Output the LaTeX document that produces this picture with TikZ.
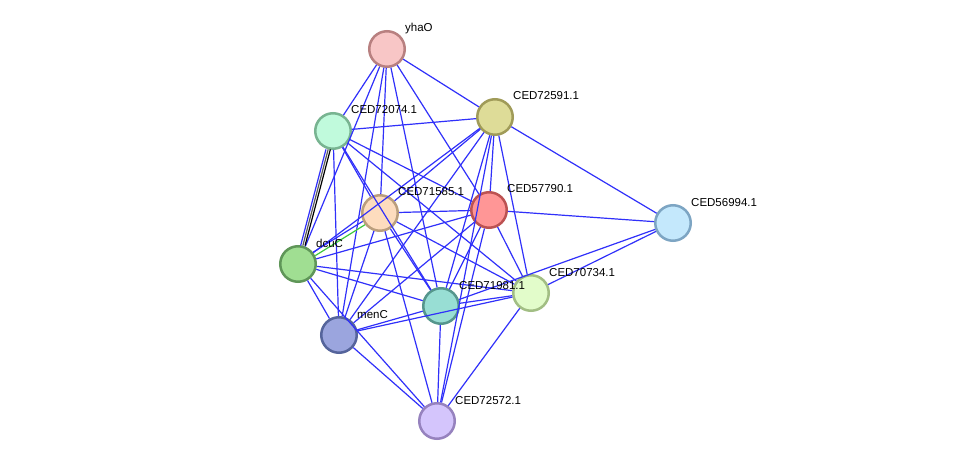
\documentclass[tikz,border=0pt]{standalone}
\usepackage{fontspec}
\setmainfont{Liberation Sans}

\definecolor{linkblue}{RGB}{48,48,250}
\definecolor{linkgreen}{RGB}{60,200,60}
\definecolor{linkgray}{RGB}{90,90,90}

\begin{document}
\begin{tikzpicture}[x=1pt,y=-1pt,prot/.style={circle,minimum size=35.5pt,inner sep=0pt,line width=2.5pt},lbl/.style={anchor=base west,inner sep=0pt,font=\fontsize{11.5}{13}\selectfont},edge/.style={line width=1.2pt,draw=linkblue}]
\useasboundingbox[fill=white] (0,0) rectangle (975,468);
\node[prot,draw={rgb,255:red,184;green,128;blue,128},fill={rgb,255:red,248;green,198;blue,198}] (yhaO) at (387,49) {};
\node[prot,draw={rgb,255:red,120;green,180;blue,145},fill={rgb,255:red,192;green,250;blue,220}] (c72074) at (333,131) {};
\node[prot,draw={rgb,255:red,160;green,155;blue,88},fill={rgb,255:red,222;green,220;blue,152}] (c72591) at (495,117) {};
\node[prot,draw={rgb,255:red,186;green,158;blue,125},fill={rgb,255:red,253;green,220;blue,190}] (c71585) at (380,213) {};
\node[prot,draw={rgb,255:red,188;green,82;blue,82},fill={rgb,255:red,255;green,150;blue,150}] (c57790) at (489,210) {};
\node[prot,draw={rgb,255:red,125;green,165;blue,195},fill={rgb,255:red,196;green,232;blue,252}] (c56994) at (673,223) {};
\node[prot,draw={rgb,255:red,95;green,150;blue,88},fill={rgb,255:red,160;green,222;blue,146}] (dcuC) at (298,264) {};
\node[prot,draw={rgb,255:red,162;green,190;blue,132},fill={rgb,255:red,226;green,252;blue,202}] (c70734) at (531,293) {};
\node[prot,draw={rgb,255:red,85;green,150;blue,140},fill={rgb,255:red,152;green,222;blue,212}] (c71981) at (441,306) {};
\node[prot,draw={rgb,255:red,85;green,100;blue,155},fill={rgb,255:red,155;green,165;blue,222}] (menC) at (339,335) {};
\node[prot,draw={rgb,255:red,150;green,130;blue,190},fill={rgb,255:red,212;green,197;blue,252}] (c72572) at (437,421) {};
% links
\draw[edge] (yhaO) -- (c72074);
\draw[edge] (yhaO) -- (c72591);
\draw[edge] (yhaO) -- (dcuC);
\draw[edge] (yhaO) -- (menC);
\draw[edge] (yhaO) -- (c71585);
\draw[edge] (yhaO) -- (c71981);
\draw[edge] (yhaO) -- (c57790);
\draw[edge] (c72074) -- (c72591);
\draw[edge,transform canvas={xshift=-2.2pt}] (c72074) -- (dcuC);
\draw[line width=1.2pt,draw=linkgray] (c72074) -- (dcuC);
\draw[line width=1.2pt,draw=black,transform canvas={xshift=2.2pt}] (c72074) -- (dcuC);
\draw[edge] (c72074) -- (menC);
\draw[edge] (c72074) -- (c71585);
\draw[edge] (c72074) -- (c57790);
\draw[edge] (c72074) -- (c71981);
\draw[edge] (c72074) -- (c70734);
\draw[edge] (c72591) -- (c71585);
\draw[edge] (c72591) -- (dcuC);
\draw[edge] (c72591) -- (menC);
\draw[edge] (c72591) -- (c57790);
\draw[edge] (c72591) -- (c71981);
\draw[edge] (c72591) -- (c72572);
\draw[edge] (c72591) -- (c70734);
\draw[edge] (c72591) -- (c56994);
\draw[edge,transform canvas={xshift=-1.1pt,yshift=1.7pt}] (c71585) -- (dcuC);
\draw[line width=1.2pt,draw=linkgreen,transform canvas={xshift=1.1pt,yshift=-1.7pt}] (c71585) -- (dcuC);
\draw[edge] (c71585) -- (c57790);
\draw[edge] (c71585) -- (c71981);
\draw[edge] (c71585) -- (c70734);
\draw[edge] (c71585) -- (c72572);
\draw[edge] (c71585) -- (menC);
\draw[edge] (c57790) -- (c56994);
\draw[edge] (c57790) -- (dcuC);
\draw[edge] (c57790) -- (menC);
\draw[edge] (c57790) -- (c71981);
\draw[edge] (c57790) -- (c70734);
\draw[edge] (c57790) -- (c72572);
\draw[edge] (dcuC) -- (menC);
\draw[edge] (dcuC) -- (c71981);
\draw[edge] (dcuC) -- (c70734);
\draw[edge] (dcuC) -- (c72572);
\draw[edge] (menC) -- (c71981);
\draw[edge] (menC) -- (c70734);
\draw[edge] (menC) -- (c72572);
\draw[edge] (c71981) -- (c70734);
\draw[edge] (c71981) -- (c72572);
\draw[edge] (c71981) -- (c56994);
\draw[edge] (c70734) -- (c56994);
\draw[edge] (c70734) -- (c72572);
% names
\node[lbl] (yhaO-l) at ([xshift=18pt,yshift=17pt]yhaO.center) {yhaO};
\node[lbl] (c72074-l) at ([xshift=18pt,yshift=17pt]c72074.center) {CED72074.1};
\node[lbl] (c72591-l) at ([xshift=18pt,yshift=17pt]c72591.center) {CED72591.1};
\node[lbl] (c71585-l) at ([xshift=18pt,yshift=17pt]c71585.center) {CED71585.1};
\node[lbl] (c57790-l) at ([xshift=18pt,yshift=17pt]c57790.center) {CED57790.1};
\node[lbl] (c56994-l) at ([xshift=18pt,yshift=17pt]c56994.center) {CED56994.1};
\node[lbl] (dcuC-l) at ([xshift=18pt,yshift=17pt]dcuC.center) {dcuC};
\node[lbl] (c70734-l) at ([xshift=18pt,yshift=17pt]c70734.center) {CED70734.1};
\node[lbl] (c71981-l) at ([xshift=18pt,yshift=17pt]c71981.center) {CED71981.1};
\node[lbl] (menC-l) at ([xshift=18pt,yshift=17pt]menC.center) {menC};
\node[lbl] (c72572-l) at ([xshift=18pt,yshift=17pt]c72572.center) {CED72572.1};
\end{tikzpicture}
\end{document}
